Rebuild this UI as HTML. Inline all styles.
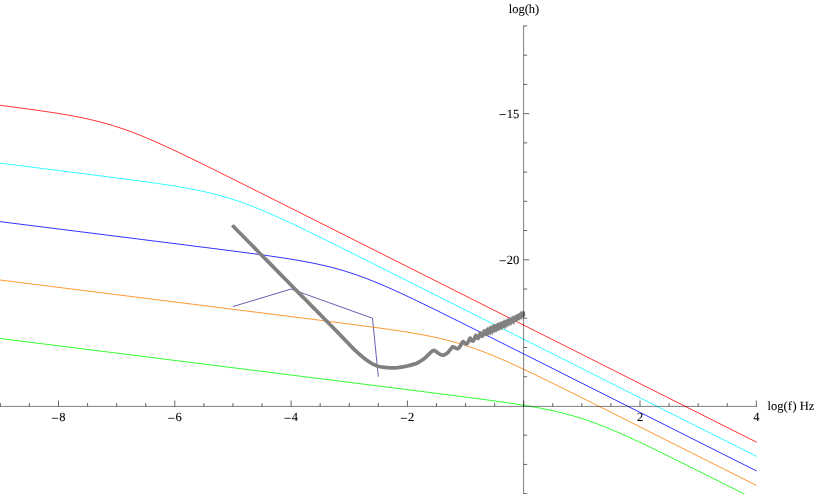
<!DOCTYPE html>
<html><head><meta charset="utf-8"><style>
html,body{margin:0;padding:0;background:#fff;}
svg{display:block;font-family:"Liberation Serif",serif;will-change:transform;text-rendering:geometricPrecision;}
</style></head><body>
<svg width="814" height="494" viewBox="0 0 814 494">
<rect width="814" height="494" fill="#fff"/>
<path d="M232.95,306.57 L291.10,289.03 L372.51,318.26 L378.33,376.72" fill="none" stroke="#4646a2" stroke-width="0.85"/>
<path d="M0.00,105.27 L2.00,105.53 L4.00,105.79 L6.00,106.05 L8.00,106.31 L10.00,106.58 L12.00,106.84 L14.00,107.11 L16.00,107.37 L18.00,107.64 L20.00,107.91 L22.00,108.17 L24.00,108.45 L26.00,108.72 L28.00,108.99 L30.00,109.27 L32.00,109.55 L34.00,109.83 L36.00,110.11 L38.00,110.39 L40.00,110.68 L42.00,110.97 L44.00,111.26 L46.00,111.56 L48.00,111.86 L50.00,112.16 L52.00,112.47 L54.00,112.78 L56.00,113.09 L58.00,113.42 L60.00,113.74 L62.00,114.07 L64.00,114.41 L66.00,114.75 L68.00,115.10 L70.00,115.46 L72.00,115.83 L74.00,116.20 L76.00,116.58 L78.00,116.97 L80.00,117.37 L82.00,117.77 L84.00,118.19 L86.00,118.62 L88.00,119.06 L90.00,119.51 L92.00,119.97 L94.00,120.45 L96.00,120.94 L98.00,121.44 L100.00,121.95 L102.00,122.48 L104.00,123.02 L106.00,123.58 L108.00,124.15 L110.00,124.73 L112.00,125.33 L114.00,125.95 L116.00,126.58 L118.00,127.22 L120.00,127.88 L122.00,128.56 L124.00,129.25 L126.00,129.95 L128.00,130.67 L130.00,131.40 L132.00,132.15 L134.00,132.90 L136.00,133.68 L138.00,134.46 L140.00,135.26 L142.00,136.06 L144.00,136.88 L146.00,137.71 L148.00,138.55 L150.00,139.41 L152.00,140.27 L154.00,141.13 L156.00,142.01 L158.00,142.90 L160.00,143.79 L162.00,144.69 L164.00,145.60 L166.00,146.52 L168.00,147.44 L170.00,148.36 L172.00,149.29 L174.00,150.23 L176.00,151.17 L178.00,152.12 L180.00,153.07 L182.00,154.02 L184.00,154.98 L186.00,155.94 L188.00,156.91 L190.00,157.88 L192.00,158.85 L194.00,159.82 L196.00,160.79 L198.00,161.77 L200.00,162.75 L202.00,163.73 L204.00,164.71 L206.00,165.70 L208.00,166.69 L210.00,167.67 L212.00,168.66 L214.00,169.65 L216.00,170.64 L218.00,171.64 L220.00,172.63 L222.00,173.62 L224.00,174.62 L226.00,175.61 L228.00,176.61 L230.00,177.61 L232.00,178.61 L234.00,179.60 L236.00,180.60 L238.00,181.60 L240.00,182.60 L242.00,183.60 L244.00,184.60 L246.00,185.60 L248.00,186.61 L250.00,187.61 L252.00,188.61 L254.00,189.61 L256.00,190.61 L258.00,191.62 L260.00,192.62 L262.00,193.62 L264.00,194.63 L266.00,195.63 L268.00,196.63 L270.00,197.64 L272.00,198.64 L274.00,199.64 L276.00,200.65 L278.00,201.65 L280.00,202.66 L282.00,203.66 L284.00,204.66 L286.00,205.67 L288.00,206.67 L290.00,207.68 L292.00,208.68 L294.00,209.69 L296.00,210.69 L298.00,211.70 L300.00,212.70 L302.00,213.71 L304.00,214.71 L306.00,215.72 L308.00,216.72 L310.00,217.73 L312.00,218.73 L314.00,219.74 L316.00,220.74 L318.00,221.75 L320.00,222.75 L322.00,223.76 L324.00,224.76 L326.00,225.77 L328.00,226.77 L330.00,227.78 L332.00,228.78 L334.00,229.79 L336.00,230.79 L338.00,231.80 L340.00,232.80 L342.00,233.81 L344.00,234.81 L346.00,235.82 L348.00,236.82 L350.00,237.83 L352.00,238.84 L354.00,239.84 L356.00,240.85 L358.00,241.85 L360.00,242.86 L362.00,243.86 L364.00,244.87 L366.00,245.87 L368.00,246.88 L370.00,247.88 L372.00,248.89 L374.00,249.89 L376.00,250.90 L378.00,251.90 L380.00,252.91 L382.00,253.91 L384.00,254.92 L386.00,255.93 L388.00,256.93 L390.00,257.94 L392.00,258.94 L394.00,259.95 L396.00,260.95 L398.00,261.96 L400.00,262.96 L402.00,263.97 L404.00,264.97 L406.00,265.98 L408.00,266.98 L410.00,267.99 L412.00,268.99 L414.00,270.00 L416.00,271.01 L418.00,272.01 L420.00,273.02 L422.00,274.02 L424.00,275.03 L426.00,276.03 L428.00,277.04 L430.00,278.04 L432.00,279.05 L434.00,280.05 L436.00,281.06 L438.00,282.06 L440.00,283.07 L442.00,284.07 L444.00,285.08 L446.00,286.09 L448.00,287.09 L450.00,288.10 L452.00,289.10 L454.00,290.11 L456.00,291.11 L458.00,292.12 L460.00,293.12 L462.00,294.13 L464.00,295.13 L466.00,296.14 L468.00,297.14 L470.00,298.15 L472.00,299.15 L474.00,300.16 L476.00,301.16 L478.00,302.17 L480.00,303.18 L482.00,304.18 L484.00,305.19 L486.00,306.19 L488.00,307.20 L490.00,308.20 L492.00,309.21 L494.00,310.21 L496.00,311.22 L498.00,312.22 L500.00,313.23 L502.00,314.23 L504.00,315.24 L506.00,316.24 L508.00,317.25 L510.00,318.26 L512.00,319.26 L514.00,320.27 L516.00,321.27 L518.00,322.28 L520.00,323.28 L522.00,324.29 L524.00,325.29 L526.00,326.30 L528.00,327.30 L530.00,328.31 L532.00,329.31 L534.00,330.32 L536.00,331.32 L538.00,332.33 L540.00,333.34 L542.00,334.34 L544.00,335.35 L546.00,336.35 L548.00,337.36 L550.00,338.36 L552.00,339.37 L554.00,340.37 L556.00,341.38 L558.00,342.38 L560.00,343.39 L562.00,344.39 L564.00,345.40 L566.00,346.40 L568.00,347.41 L570.00,348.42 L572.00,349.42 L574.00,350.43 L576.00,351.43 L578.00,352.44 L580.00,353.44 L582.00,354.45 L584.00,355.45 L586.00,356.46 L588.00,357.46 L590.00,358.47 L592.00,359.47 L594.00,360.48 L596.00,361.48 L598.00,362.49 L600.00,363.50 L602.00,364.50 L604.00,365.51 L606.00,366.51 L608.00,367.52 L610.00,368.52 L612.00,369.53 L614.00,370.53 L616.00,371.54 L618.00,372.54 L620.00,373.55 L622.00,374.55 L624.00,375.56 L626.00,376.56 L628.00,377.57 L630.00,378.58 L632.00,379.58 L634.00,380.59 L636.00,381.59 L638.00,382.60 L640.00,383.60 L642.00,384.61 L644.00,385.61 L646.00,386.62 L648.00,387.62 L650.00,388.63 L652.00,389.63 L654.00,390.64 L656.00,391.64 L658.00,392.65 L660.00,393.66 L662.00,394.66 L664.00,395.67 L666.00,396.67 L668.00,397.68 L670.00,398.68 L672.00,399.69 L674.00,400.69 L676.00,401.70 L678.00,402.70 L680.00,403.71 L682.00,404.71 L684.00,405.72 L686.00,406.72 L688.00,407.73 L690.00,408.74 L692.00,409.74 L694.00,410.75 L696.00,411.75 L698.00,412.76 L700.00,413.76 L702.00,414.77 L704.00,415.77 L706.00,416.78 L708.00,417.78 L710.00,418.79 L712.00,419.79 L714.00,420.80 L716.00,421.80 L718.00,422.81 L720.00,423.82 L722.00,424.82 L724.00,425.83 L726.00,426.83 L728.00,427.84 L730.00,428.84 L732.00,429.85 L734.00,430.85 L736.00,431.86 L738.00,432.86 L740.00,433.87 L742.00,434.87 L744.00,435.88 L746.00,436.88 L748.00,437.89 L750.00,438.90 L752.00,439.90 L754.00,440.91 L756.00,441.91 L756.60,442.21" fill="none" stroke="#ff0000" stroke-width="0.8"/>
<path d="M0.00,163.18 L2.00,163.43 L4.00,163.69 L6.00,163.94 L8.00,164.19 L10.00,164.44 L12.00,164.69 L14.00,164.94 L16.00,165.19 L18.00,165.45 L20.00,165.70 L22.00,165.95 L24.00,166.20 L26.00,166.45 L28.00,166.70 L30.00,166.95 L32.00,167.21 L34.00,167.46 L36.00,167.71 L38.00,167.96 L40.00,168.21 L42.00,168.46 L44.00,168.72 L46.00,168.97 L48.00,169.22 L50.00,169.47 L52.00,169.72 L54.00,169.98 L56.00,170.23 L58.00,170.48 L60.00,170.73 L62.00,170.98 L64.00,171.24 L66.00,171.49 L68.00,171.74 L70.00,171.99 L72.00,172.25 L74.00,172.50 L76.00,172.75 L78.00,173.01 L80.00,173.26 L82.00,173.51 L84.00,173.77 L86.00,174.02 L88.00,174.27 L90.00,174.53 L92.00,174.78 L94.00,175.04 L96.00,175.29 L98.00,175.55 L100.00,175.80 L102.00,176.06 L104.00,176.31 L106.00,176.57 L108.00,176.83 L110.00,177.08 L112.00,177.34 L114.00,177.60 L116.00,177.86 L118.00,178.12 L120.00,178.38 L122.00,178.64 L124.00,178.90 L126.00,179.16 L128.00,179.43 L130.00,179.69 L132.00,179.96 L134.00,180.22 L136.00,180.49 L138.00,180.76 L140.00,181.03 L142.00,181.30 L144.00,181.58 L146.00,181.85 L148.00,182.13 L150.00,182.41 L152.00,182.69 L154.00,182.97 L156.00,183.26 L158.00,183.55 L160.00,183.84 L162.00,184.14 L164.00,184.44 L166.00,184.74 L168.00,185.05 L170.00,185.36 L172.00,185.67 L174.00,185.99 L176.00,186.32 L178.00,186.65 L180.00,186.98 L182.00,187.33 L184.00,187.68 L186.00,188.03 L188.00,188.40 L190.00,188.77 L192.00,189.15 L194.00,189.53 L196.00,189.93 L198.00,190.34 L200.00,190.75 L202.00,191.18 L204.00,191.62 L206.00,192.07 L208.00,192.53 L210.00,193.00 L212.00,193.49 L214.00,193.99 L216.00,194.50 L218.00,195.03 L220.00,195.56 L222.00,196.12 L224.00,196.69 L226.00,197.27 L228.00,197.87 L230.00,198.48 L232.00,199.11 L234.00,199.75 L236.00,200.41 L238.00,201.08 L240.00,201.77 L242.00,202.47 L244.00,203.18 L246.00,203.91 L248.00,204.66 L250.00,205.41 L252.00,206.18 L254.00,206.97 L256.00,207.76 L258.00,208.57 L260.00,209.39 L262.00,210.21 L264.00,211.05 L266.00,211.90 L268.00,212.76 L270.00,213.63 L272.00,214.51 L274.00,215.39 L276.00,216.28 L278.00,217.18 L280.00,218.09 L282.00,219.00 L284.00,219.92 L286.00,220.85 L288.00,221.78 L290.00,222.72 L292.00,223.66 L294.00,224.60 L296.00,225.55 L298.00,226.51 L300.00,227.46 L302.00,228.42 L304.00,229.39 L306.00,230.35 L308.00,231.32 L310.00,232.30 L312.00,233.27 L314.00,234.25 L316.00,235.23 L318.00,236.21 L320.00,237.19 L322.00,238.18 L324.00,239.16 L326.00,240.15 L328.00,241.14 L330.00,242.13 L332.00,243.12 L334.00,244.11 L336.00,245.11 L338.00,246.10 L340.00,247.09 L342.00,248.09 L344.00,249.09 L346.00,250.08 L348.00,251.08 L350.00,252.08 L352.00,253.08 L354.00,254.08 L356.00,255.08 L358.00,256.08 L360.00,257.08 L362.00,258.08 L364.00,259.08 L366.00,260.08 L368.00,261.08 L370.00,262.09 L372.00,263.09 L374.00,264.09 L376.00,265.09 L378.00,266.10 L380.00,267.10 L382.00,268.10 L384.00,269.11 L386.00,270.11 L388.00,271.11 L390.00,272.12 L392.00,273.12 L394.00,274.13 L396.00,275.13 L398.00,276.13 L400.00,277.14 L402.00,278.14 L404.00,279.15 L406.00,280.15 L408.00,281.16 L410.00,282.16 L412.00,283.17 L414.00,284.17 L416.00,285.18 L418.00,286.18 L420.00,287.19 L422.00,288.19 L424.00,289.20 L426.00,290.20 L428.00,291.21 L430.00,292.21 L432.00,293.22 L434.00,294.22 L436.00,295.23 L438.00,296.23 L440.00,297.24 L442.00,298.24 L444.00,299.25 L446.00,300.25 L448.00,301.26 L450.00,302.26 L452.00,303.27 L454.00,304.27 L456.00,305.28 L458.00,306.28 L460.00,307.29 L462.00,308.29 L464.00,309.30 L466.00,310.30 L468.00,311.31 L470.00,312.31 L472.00,313.32 L474.00,314.33 L476.00,315.33 L478.00,316.34 L480.00,317.34 L482.00,318.35 L484.00,319.35 L486.00,320.36 L488.00,321.36 L490.00,322.37 L492.00,323.37 L494.00,324.38 L496.00,325.38 L498.00,326.39 L500.00,327.39 L502.00,328.40 L504.00,329.40 L506.00,330.41 L508.00,331.42 L510.00,332.42 L512.00,333.43 L514.00,334.43 L516.00,335.44 L518.00,336.44 L520.00,337.45 L522.00,338.45 L524.00,339.46 L526.00,340.46 L528.00,341.47 L530.00,342.47 L532.00,343.48 L534.00,344.48 L536.00,345.49 L538.00,346.50 L540.00,347.50 L542.00,348.51 L544.00,349.51 L546.00,350.52 L548.00,351.52 L550.00,352.53 L552.00,353.53 L554.00,354.54 L556.00,355.54 L558.00,356.55 L560.00,357.55 L562.00,358.56 L564.00,359.56 L566.00,360.57 L568.00,361.58 L570.00,362.58 L572.00,363.59 L574.00,364.59 L576.00,365.60 L578.00,366.60 L580.00,367.61 L582.00,368.61 L584.00,369.62 L586.00,370.62 L588.00,371.63 L590.00,372.63 L592.00,373.64 L594.00,374.64 L596.00,375.65 L598.00,376.66 L600.00,377.66 L602.00,378.67 L604.00,379.67 L606.00,380.68 L608.00,381.68 L610.00,382.69 L612.00,383.69 L614.00,384.70 L616.00,385.70 L618.00,386.71 L620.00,387.71 L622.00,388.72 L624.00,389.72 L626.00,390.73 L628.00,391.74 L630.00,392.74 L632.00,393.75 L634.00,394.75 L636.00,395.76 L638.00,396.76 L640.00,397.77 L642.00,398.77 L644.00,399.78 L646.00,400.78 L648.00,401.79 L650.00,402.79 L652.00,403.80 L654.00,404.80 L656.00,405.81 L658.00,406.82 L660.00,407.82 L662.00,408.83 L664.00,409.83 L666.00,410.84 L668.00,411.84 L670.00,412.85 L672.00,413.85 L674.00,414.86 L676.00,415.86 L678.00,416.87 L680.00,417.87 L682.00,418.88 L684.00,419.88 L686.00,420.89 L688.00,421.90 L690.00,422.90 L692.00,423.91 L694.00,424.91 L696.00,425.92 L698.00,426.92 L700.00,427.93 L702.00,428.93 L704.00,429.94 L706.00,430.94 L708.00,431.95 L710.00,432.95 L712.00,433.96 L714.00,434.96 L716.00,435.97 L718.00,436.98 L720.00,437.98 L722.00,438.99 L724.00,439.99 L726.00,441.00 L728.00,442.00 L730.00,443.01 L732.00,444.01 L734.00,445.02 L736.00,446.02 L738.00,447.03 L740.00,448.03 L742.00,449.04 L744.00,450.04 L746.00,451.05 L748.00,452.05 L750.00,453.06 L752.00,454.07 L754.00,455.07 L756.00,456.08 L756.60,456.38" fill="none" stroke="#00ffff" stroke-width="0.8"/>
<path d="M0.00,221.64 L2.00,221.89 L4.00,222.14 L6.00,222.40 L8.00,222.65 L10.00,222.90 L12.00,223.15 L14.00,223.40 L16.00,223.65 L18.00,223.90 L20.00,224.15 L22.00,224.41 L24.00,224.66 L26.00,224.91 L28.00,225.16 L30.00,225.41 L32.00,225.66 L34.00,225.91 L36.00,226.17 L38.00,226.42 L40.00,226.67 L42.00,226.92 L44.00,227.17 L46.00,227.42 L48.00,227.67 L50.00,227.93 L52.00,228.18 L54.00,228.43 L56.00,228.68 L58.00,228.93 L60.00,229.18 L62.00,229.43 L64.00,229.68 L66.00,229.94 L68.00,230.19 L70.00,230.44 L72.00,230.69 L74.00,230.94 L76.00,231.19 L78.00,231.44 L80.00,231.70 L82.00,231.95 L84.00,232.20 L86.00,232.45 L88.00,232.70 L90.00,232.95 L92.00,233.20 L94.00,233.45 L96.00,233.71 L98.00,233.96 L100.00,234.21 L102.00,234.46 L104.00,234.71 L106.00,234.96 L108.00,235.21 L110.00,235.47 L112.00,235.72 L114.00,235.97 L116.00,236.22 L118.00,236.47 L120.00,236.72 L122.00,236.97 L124.00,237.23 L126.00,237.48 L128.00,237.73 L130.00,237.98 L132.00,238.23 L134.00,238.48 L136.00,238.73 L138.00,238.99 L140.00,239.24 L142.00,239.49 L144.00,239.74 L146.00,239.99 L148.00,240.24 L150.00,240.50 L152.00,240.75 L154.00,241.00 L156.00,241.25 L158.00,241.50 L160.00,241.75 L162.00,242.01 L164.00,242.26 L166.00,242.51 L168.00,242.76 L170.00,243.01 L172.00,243.27 L174.00,243.52 L176.00,243.77 L178.00,244.02 L180.00,244.27 L182.00,244.53 L184.00,244.78 L186.00,245.03 L188.00,245.28 L190.00,245.54 L192.00,245.79 L194.00,246.04 L196.00,246.30 L198.00,246.55 L200.00,246.80 L202.00,247.06 L204.00,247.31 L206.00,247.56 L208.00,247.82 L210.00,248.07 L212.00,248.33 L214.00,248.58 L216.00,248.84 L218.00,249.09 L220.00,249.35 L222.00,249.61 L224.00,249.86 L226.00,250.12 L228.00,250.38 L230.00,250.64 L232.00,250.89 L234.00,251.15 L236.00,251.41 L238.00,251.67 L240.00,251.94 L242.00,252.20 L244.00,252.46 L246.00,252.73 L248.00,252.99 L250.00,253.26 L252.00,253.52 L254.00,253.79 L256.00,254.06 L258.00,254.34 L260.00,254.61 L262.00,254.88 L264.00,255.16 L266.00,255.44 L268.00,255.72 L270.00,256.01 L272.00,256.29 L274.00,256.58 L276.00,256.87 L278.00,257.17 L280.00,257.47 L282.00,257.77 L284.00,258.07 L286.00,258.38 L288.00,258.70 L290.00,259.02 L292.00,259.34 L294.00,259.67 L296.00,260.01 L298.00,260.35 L300.00,260.70 L302.00,261.05 L304.00,261.42 L306.00,261.79 L308.00,262.16 L310.00,262.55 L312.00,262.95 L314.00,263.35 L316.00,263.77 L318.00,264.19 L320.00,264.63 L322.00,265.08 L324.00,265.53 L326.00,266.01 L328.00,266.49 L330.00,266.99 L332.00,267.50 L334.00,268.02 L336.00,268.56 L338.00,269.11 L340.00,269.68 L342.00,270.26 L344.00,270.85 L346.00,271.46 L348.00,272.09 L350.00,272.73 L352.00,273.38 L354.00,274.05 L356.00,274.74 L358.00,275.44 L360.00,276.15 L362.00,276.88 L364.00,277.62 L366.00,278.38 L368.00,279.14 L370.00,279.92 L372.00,280.72 L374.00,281.52 L376.00,282.34 L378.00,283.16 L380.00,284.00 L382.00,284.85 L384.00,285.71 L386.00,286.57 L388.00,287.45 L390.00,288.33 L392.00,289.22 L394.00,290.12 L396.00,291.03 L398.00,291.94 L400.00,292.86 L402.00,293.78 L404.00,294.71 L406.00,295.65 L408.00,296.59 L410.00,297.54 L412.00,298.48 L414.00,299.44 L416.00,300.39 L418.00,301.35 L420.00,302.32 L422.00,303.28 L424.00,304.25 L426.00,305.23 L428.00,306.20 L430.00,307.18 L432.00,308.16 L434.00,309.14 L436.00,310.12 L438.00,311.10 L440.00,312.09 L442.00,313.08 L444.00,314.07 L446.00,315.05 L448.00,316.05 L450.00,317.04 L452.00,318.03 L454.00,319.03 L456.00,320.02 L458.00,321.02 L460.00,322.01 L462.00,323.01 L464.00,324.01 L466.00,325.00 L468.00,326.00 L470.00,327.00 L472.00,328.00 L474.00,329.00 L476.00,330.00 L478.00,331.00 L480.00,332.01 L482.00,333.01 L484.00,334.01 L486.00,335.01 L488.00,336.01 L490.00,337.02 L492.00,338.02 L494.00,339.02 L496.00,340.02 L498.00,341.03 L500.00,342.03 L502.00,343.04 L504.00,344.04 L506.00,345.04 L508.00,346.05 L510.00,347.05 L512.00,348.05 L514.00,349.06 L516.00,350.06 L518.00,351.07 L520.00,352.07 L522.00,353.08 L524.00,354.08 L526.00,355.09 L528.00,356.09 L530.00,357.10 L532.00,358.10 L534.00,359.11 L536.00,360.11 L538.00,361.12 L540.00,362.12 L542.00,363.13 L544.00,364.13 L546.00,365.14 L548.00,366.14 L550.00,367.15 L552.00,368.15 L554.00,369.16 L556.00,370.16 L558.00,371.17 L560.00,372.17 L562.00,373.18 L564.00,374.18 L566.00,375.19 L568.00,376.19 L570.00,377.20 L572.00,378.20 L574.00,379.21 L576.00,380.21 L578.00,381.22 L580.00,382.22 L582.00,383.23 L584.00,384.23 L586.00,385.24 L588.00,386.24 L590.00,387.25 L592.00,388.25 L594.00,389.26 L596.00,390.27 L598.00,391.27 L600.00,392.28 L602.00,393.28 L604.00,394.29 L606.00,395.29 L608.00,396.30 L610.00,397.30 L612.00,398.31 L614.00,399.31 L616.00,400.32 L618.00,401.32 L620.00,402.33 L622.00,403.33 L624.00,404.34 L626.00,405.34 L628.00,406.35 L630.00,407.36 L632.00,408.36 L634.00,409.37 L636.00,410.37 L638.00,411.38 L640.00,412.38 L642.00,413.39 L644.00,414.39 L646.00,415.40 L648.00,416.40 L650.00,417.41 L652.00,418.41 L654.00,419.42 L656.00,420.42 L658.00,421.43 L660.00,422.44 L662.00,423.44 L664.00,424.45 L666.00,425.45 L668.00,426.46 L670.00,427.46 L672.00,428.47 L674.00,429.47 L676.00,430.48 L678.00,431.48 L680.00,432.49 L682.00,433.49 L684.00,434.50 L686.00,435.50 L688.00,436.51 L690.00,437.52 L692.00,438.52 L694.00,439.53 L696.00,440.53 L698.00,441.54 L700.00,442.54 L702.00,443.55 L704.00,444.55 L706.00,445.56 L708.00,446.56 L710.00,447.57 L712.00,448.57 L714.00,449.58 L716.00,450.58 L718.00,451.59 L720.00,452.60 L722.00,453.60 L724.00,454.61 L726.00,455.61 L728.00,456.62 L730.00,457.62 L732.00,458.63 L734.00,459.63 L736.00,460.64 L738.00,461.64 L740.00,462.65 L742.00,463.65 L744.00,464.66 L746.00,465.66 L748.00,466.67 L750.00,467.68 L752.00,468.68 L754.00,469.69 L756.00,470.69 L756.60,470.99" fill="none" stroke="#0000ff" stroke-width="0.8"/>
<path d="M0.00,280.00 L2.00,280.25 L4.00,280.50 L6.00,280.76 L8.00,281.01 L10.00,281.26 L12.00,281.51 L14.00,281.76 L16.00,282.01 L18.00,282.26 L20.00,282.51 L22.00,282.77 L24.00,283.02 L26.00,283.27 L28.00,283.52 L30.00,283.77 L32.00,284.02 L34.00,284.27 L36.00,284.53 L38.00,284.78 L40.00,285.03 L42.00,285.28 L44.00,285.53 L46.00,285.78 L48.00,286.03 L50.00,286.28 L52.00,286.54 L54.00,286.79 L56.00,287.04 L58.00,287.29 L60.00,287.54 L62.00,287.79 L64.00,288.04 L66.00,288.30 L68.00,288.55 L70.00,288.80 L72.00,289.05 L74.00,289.30 L76.00,289.55 L78.00,289.80 L80.00,290.05 L82.00,290.31 L84.00,290.56 L86.00,290.81 L88.00,291.06 L90.00,291.31 L92.00,291.56 L94.00,291.81 L96.00,292.07 L98.00,292.32 L100.00,292.57 L102.00,292.82 L104.00,293.07 L106.00,293.32 L108.00,293.57 L110.00,293.82 L112.00,294.08 L114.00,294.33 L116.00,294.58 L118.00,294.83 L120.00,295.08 L122.00,295.33 L124.00,295.58 L126.00,295.84 L128.00,296.09 L130.00,296.34 L132.00,296.59 L134.00,296.84 L136.00,297.09 L138.00,297.34 L140.00,297.59 L142.00,297.85 L144.00,298.10 L146.00,298.35 L148.00,298.60 L150.00,298.85 L152.00,299.10 L154.00,299.35 L156.00,299.61 L158.00,299.86 L160.00,300.11 L162.00,300.36 L164.00,300.61 L166.00,300.86 L168.00,301.11 L170.00,301.36 L172.00,301.62 L174.00,301.87 L176.00,302.12 L178.00,302.37 L180.00,302.62 L182.00,302.87 L184.00,303.12 L186.00,303.38 L188.00,303.63 L190.00,303.88 L192.00,304.13 L194.00,304.38 L196.00,304.63 L198.00,304.88 L200.00,305.14 L202.00,305.39 L204.00,305.64 L206.00,305.89 L208.00,306.14 L210.00,306.39 L212.00,306.64 L214.00,306.89 L216.00,307.15 L218.00,307.40 L220.00,307.65 L222.00,307.90 L224.00,308.15 L226.00,308.40 L228.00,308.65 L230.00,308.91 L232.00,309.16 L234.00,309.41 L236.00,309.66 L238.00,309.91 L240.00,310.16 L242.00,310.41 L244.00,310.67 L246.00,310.92 L248.00,311.17 L250.00,311.42 L252.00,311.67 L254.00,311.92 L256.00,312.17 L258.00,312.43 L260.00,312.68 L262.00,312.93 L264.00,313.18 L266.00,313.43 L268.00,313.68 L270.00,313.94 L272.00,314.19 L274.00,314.44 L276.00,314.69 L278.00,314.94 L280.00,315.19 L282.00,315.45 L284.00,315.70 L286.00,315.95 L288.00,316.20 L290.00,316.45 L292.00,316.71 L294.00,316.96 L296.00,317.21 L298.00,317.46 L300.00,317.72 L302.00,317.97 L304.00,318.22 L306.00,318.47 L308.00,318.73 L310.00,318.98 L312.00,319.23 L314.00,319.49 L316.00,319.74 L318.00,319.99 L320.00,320.25 L322.00,320.50 L324.00,320.76 L326.00,321.01 L328.00,321.26 L330.00,321.52 L332.00,321.77 L334.00,322.03 L336.00,322.29 L338.00,322.54 L340.00,322.80 L342.00,323.06 L344.00,323.31 L346.00,323.57 L348.00,323.83 L350.00,324.09 L352.00,324.35 L354.00,324.61 L356.00,324.87 L358.00,325.13 L360.00,325.40 L362.00,325.66 L364.00,325.93 L366.00,326.19 L368.00,326.46 L370.00,326.73 L372.00,327.00 L374.00,327.27 L376.00,327.54 L378.00,327.82 L380.00,328.10 L382.00,328.37 L384.00,328.65 L386.00,328.94 L388.00,329.22 L390.00,329.51 L392.00,329.80 L394.00,330.10 L396.00,330.40 L398.00,330.70 L400.00,331.00 L402.00,331.31 L404.00,331.63 L406.00,331.95 L408.00,332.27 L410.00,332.60 L412.00,332.93 L414.00,333.27 L416.00,333.62 L418.00,333.97 L420.00,334.34 L422.00,334.70 L424.00,335.08 L426.00,335.47 L428.00,335.86 L430.00,336.26 L432.00,336.68 L434.00,337.10 L436.00,337.54 L438.00,337.98 L440.00,338.44 L442.00,338.91 L444.00,339.39 L446.00,339.89 L448.00,340.39 L450.00,340.92 L452.00,341.45 L454.00,342.00 L456.00,342.57 L458.00,343.14 L460.00,343.74 L462.00,344.35 L464.00,344.97 L466.00,345.61 L468.00,346.26 L470.00,346.93 L472.00,347.61 L474.00,348.31 L476.00,349.02 L478.00,349.74 L480.00,350.48 L482.00,351.24 L484.00,352.00 L486.00,352.78 L488.00,353.57 L490.00,354.37 L492.00,355.19 L494.00,356.01 L496.00,356.85 L498.00,357.70 L500.00,358.55 L502.00,359.42 L504.00,360.29 L506.00,361.17 L508.00,362.06 L510.00,362.96 L512.00,363.87 L514.00,364.78 L516.00,365.70 L518.00,366.62 L520.00,367.55 L522.00,368.48 L524.00,369.42 L526.00,370.37 L528.00,371.32 L530.00,372.27 L532.00,373.23 L534.00,374.19 L536.00,375.15 L538.00,376.11 L540.00,377.08 L542.00,378.06 L544.00,379.03 L546.00,380.01 L548.00,380.98 L550.00,381.96 L552.00,382.95 L554.00,383.93 L556.00,384.92 L558.00,385.90 L560.00,386.89 L562.00,387.88 L564.00,388.87 L566.00,389.86 L568.00,390.86 L570.00,391.85 L572.00,392.85 L574.00,393.84 L576.00,394.84 L578.00,395.83 L580.00,396.83 L582.00,397.83 L584.00,398.83 L586.00,399.83 L588.00,400.83 L590.00,401.83 L592.00,402.83 L594.00,403.83 L596.00,404.83 L598.00,405.83 L600.00,406.83 L602.00,407.84 L604.00,408.84 L606.00,409.84 L608.00,410.84 L610.00,411.85 L612.00,412.85 L614.00,413.85 L616.00,414.86 L618.00,415.86 L620.00,416.86 L622.00,417.87 L624.00,418.87 L626.00,419.88 L628.00,420.88 L630.00,421.88 L632.00,422.89 L634.00,423.89 L636.00,424.90 L638.00,425.90 L640.00,426.91 L642.00,427.91 L644.00,428.92 L646.00,429.92 L648.00,430.92 L650.00,431.93 L652.00,432.93 L654.00,433.94 L656.00,434.94 L658.00,435.95 L660.00,436.95 L662.00,437.96 L664.00,438.96 L666.00,439.97 L668.00,440.97 L670.00,441.98 L672.00,442.98 L674.00,443.99 L676.00,445.00 L678.00,446.00 L680.00,447.01 L682.00,448.01 L684.00,449.02 L686.00,450.02 L688.00,451.03 L690.00,452.03 L692.00,453.04 L694.00,454.04 L696.00,455.05 L698.00,456.05 L700.00,457.06 L702.00,458.06 L704.00,459.07 L706.00,460.07 L708.00,461.08 L710.00,462.08 L712.00,463.09 L714.00,464.09 L716.00,465.10 L718.00,466.11 L720.00,467.11 L722.00,468.12 L724.00,469.12 L726.00,470.13 L728.00,471.13 L730.00,472.14 L732.00,473.14 L734.00,474.15 L736.00,475.15 L738.00,476.16 L740.00,477.16 L742.00,478.17 L744.00,479.17 L746.00,480.18 L748.00,481.19 L750.00,482.19 L752.00,483.20 L754.00,484.20 L756.00,485.21 L756.60,485.51" fill="none" stroke="#ff8000" stroke-width="0.8"/>
<path d="M0.00,338.46 L2.00,338.71 L4.00,338.96 L6.00,339.22 L8.00,339.47 L10.00,339.72 L12.00,339.97 L14.00,340.22 L16.00,340.47 L18.00,340.72 L20.00,340.97 L22.00,341.23 L24.00,341.48 L26.00,341.73 L28.00,341.98 L30.00,342.23 L32.00,342.48 L34.00,342.73 L36.00,342.99 L38.00,343.24 L40.00,343.49 L42.00,343.74 L44.00,343.99 L46.00,344.24 L48.00,344.49 L50.00,344.74 L52.00,345.00 L54.00,345.25 L56.00,345.50 L58.00,345.75 L60.00,346.00 L62.00,346.25 L64.00,346.50 L66.00,346.76 L68.00,347.01 L70.00,347.26 L72.00,347.51 L74.00,347.76 L76.00,348.01 L78.00,348.26 L80.00,348.51 L82.00,348.77 L84.00,349.02 L86.00,349.27 L88.00,349.52 L90.00,349.77 L92.00,350.02 L94.00,350.27 L96.00,350.53 L98.00,350.78 L100.00,351.03 L102.00,351.28 L104.00,351.53 L106.00,351.78 L108.00,352.03 L110.00,352.28 L112.00,352.54 L114.00,352.79 L116.00,353.04 L118.00,353.29 L120.00,353.54 L122.00,353.79 L124.00,354.04 L126.00,354.30 L128.00,354.55 L130.00,354.80 L132.00,355.05 L134.00,355.30 L136.00,355.55 L138.00,355.80 L140.00,356.05 L142.00,356.31 L144.00,356.56 L146.00,356.81 L148.00,357.06 L150.00,357.31 L152.00,357.56 L154.00,357.81 L156.00,358.07 L158.00,358.32 L160.00,358.57 L162.00,358.82 L164.00,359.07 L166.00,359.32 L168.00,359.57 L170.00,359.82 L172.00,360.08 L174.00,360.33 L176.00,360.58 L178.00,360.83 L180.00,361.08 L182.00,361.33 L184.00,361.58 L186.00,361.84 L188.00,362.09 L190.00,362.34 L192.00,362.59 L194.00,362.84 L196.00,363.09 L198.00,363.34 L200.00,363.59 L202.00,363.85 L204.00,364.10 L206.00,364.35 L208.00,364.60 L210.00,364.85 L212.00,365.10 L214.00,365.35 L216.00,365.61 L218.00,365.86 L220.00,366.11 L222.00,366.36 L224.00,366.61 L226.00,366.86 L228.00,367.11 L230.00,367.36 L232.00,367.62 L234.00,367.87 L236.00,368.12 L238.00,368.37 L240.00,368.62 L242.00,368.87 L244.00,369.12 L246.00,369.38 L248.00,369.63 L250.00,369.88 L252.00,370.13 L254.00,370.38 L256.00,370.63 L258.00,370.88 L260.00,371.13 L262.00,371.39 L264.00,371.64 L266.00,371.89 L268.00,372.14 L270.00,372.39 L272.00,372.64 L274.00,372.89 L276.00,373.15 L278.00,373.40 L280.00,373.65 L282.00,373.90 L284.00,374.15 L286.00,374.40 L288.00,374.65 L290.00,374.90 L292.00,375.16 L294.00,375.41 L296.00,375.66 L298.00,375.91 L300.00,376.16 L302.00,376.41 L304.00,376.66 L306.00,376.92 L308.00,377.17 L310.00,377.42 L312.00,377.67 L314.00,377.92 L316.00,378.17 L318.00,378.42 L320.00,378.68 L322.00,378.93 L324.00,379.18 L326.00,379.43 L328.00,379.68 L330.00,379.93 L332.00,380.18 L334.00,380.43 L336.00,380.69 L338.00,380.94 L340.00,381.19 L342.00,381.44 L344.00,381.69 L346.00,381.94 L348.00,382.19 L350.00,382.45 L352.00,382.70 L354.00,382.95 L356.00,383.20 L358.00,383.45 L360.00,383.70 L362.00,383.95 L364.00,384.21 L366.00,384.46 L368.00,384.71 L370.00,384.96 L372.00,385.21 L374.00,385.46 L376.00,385.72 L378.00,385.97 L380.00,386.22 L382.00,386.47 L384.00,386.72 L386.00,386.97 L388.00,387.22 L390.00,387.48 L392.00,387.73 L394.00,387.98 L396.00,388.23 L398.00,388.48 L400.00,388.74 L402.00,388.99 L404.00,389.24 L406.00,389.49 L408.00,389.74 L410.00,390.00 L412.00,390.25 L414.00,390.50 L416.00,390.75 L418.00,391.01 L420.00,391.26 L422.00,391.51 L424.00,391.76 L426.00,392.02 L428.00,392.27 L430.00,392.52 L432.00,392.78 L434.00,393.03 L436.00,393.28 L438.00,393.54 L440.00,393.79 L442.00,394.05 L444.00,394.30 L446.00,394.56 L448.00,394.81 L450.00,395.07 L452.00,395.32 L454.00,395.58 L456.00,395.84 L458.00,396.09 L460.00,396.35 L462.00,396.61 L464.00,396.87 L466.00,397.13 L468.00,397.39 L470.00,397.65 L472.00,397.91 L474.00,398.17 L476.00,398.43 L478.00,398.70 L480.00,398.96 L482.00,399.23 L484.00,399.49 L486.00,399.76 L488.00,400.03 L490.00,400.30 L492.00,400.58 L494.00,400.85 L496.00,401.13 L498.00,401.41 L500.00,401.69 L502.00,401.97 L504.00,402.26 L506.00,402.54 L508.00,402.84 L510.00,403.13 L512.00,403.43 L514.00,403.73 L516.00,404.03 L518.00,404.34 L520.00,404.65 L522.00,404.97 L524.00,405.30 L526.00,405.62 L528.00,405.96 L530.00,406.30 L532.00,406.64 L534.00,407.00 L536.00,407.36 L538.00,407.72 L540.00,408.10 L542.00,408.48 L544.00,408.88 L546.00,409.28 L548.00,409.69 L550.00,410.11 L552.00,410.55 L554.00,410.99 L556.00,411.45 L558.00,411.91 L560.00,412.39 L562.00,412.89 L564.00,413.39 L566.00,413.91 L568.00,414.45 L570.00,414.99 L572.00,415.55 L574.00,416.13 L576.00,416.72 L578.00,417.33 L580.00,417.95 L582.00,418.59 L584.00,419.24 L586.00,419.90 L588.00,420.58 L590.00,421.28 L592.00,421.99 L594.00,422.71 L596.00,423.45 L598.00,424.20 L600.00,424.96 L602.00,425.74 L604.00,426.53 L606.00,427.33 L608.00,428.14 L610.00,428.96 L612.00,429.80 L614.00,430.64 L616.00,431.50 L618.00,432.36 L620.00,433.23 L622.00,434.12 L624.00,435.01 L626.00,435.90 L628.00,436.81 L630.00,437.72 L632.00,438.63 L634.00,439.56 L636.00,440.49 L638.00,441.42 L640.00,442.36 L642.00,443.30 L644.00,444.25 L646.00,445.20 L648.00,446.16 L650.00,447.12 L652.00,448.08 L654.00,449.04 L656.00,450.01 L658.00,450.98 L660.00,451.96 L662.00,452.93 L664.00,453.91 L666.00,454.89 L668.00,455.87 L670.00,456.86 L672.00,457.84 L674.00,458.83 L676.00,459.82 L678.00,460.81 L680.00,461.80 L682.00,462.79 L684.00,463.78 L686.00,464.78 L688.00,465.77 L690.00,466.77 L692.00,467.76 L694.00,468.76 L696.00,469.76 L698.00,470.76 L700.00,471.75 L702.00,472.75 L704.00,473.75 L706.00,474.75 L708.00,475.75 L710.00,476.75 L712.00,477.76 L714.00,478.76 L716.00,479.76 L718.00,480.76 L720.00,481.76 L722.00,482.77 L724.00,483.77 L726.00,484.77 L728.00,485.77 L730.00,486.78 L732.00,487.78 L734.00,488.78 L736.00,489.79 L738.00,490.79 L740.00,491.80 L742.00,492.80 L744.00,493.80 L746.00,494.81 L748.00,495.81 L750.00,496.82 L752.00,497.82 L754.00,498.83 L756.00,499.83 L756.60,500.13" fill="none" stroke="#00ff00" stroke-width="0.8"/>
<path d="M232.30,225.30 L233.76,226.78 L235.63,228.69 L237.85,230.94 L240.34,233.47 L243.02,236.19 L245.82,239.04 L248.68,241.95 L251.51,244.82 L254.24,247.60 L256.80,250.20 L259.25,252.69 L261.70,255.18 L264.16,257.68 L266.61,260.17 L269.06,262.66 L271.51,265.15 L273.96,267.64 L276.41,270.13 L278.86,272.62 L281.30,275.10 L283.74,277.58 L286.17,280.05 L288.60,282.52 L291.03,284.99 L293.46,287.46 L295.88,289.93 L298.31,292.40 L300.74,294.86 L303.17,297.33 L305.60,299.80 L308.09,302.32 L310.67,304.93 L313.29,307.59 L315.93,310.26 L318.55,312.91 L321.11,315.49 L323.57,317.98 L325.89,320.33 L328.05,322.52 L330.00,324.50 L331.72,326.25 L333.23,327.79 L334.58,329.17 L335.79,330.41 L336.91,331.55 L337.96,332.63 L338.99,333.69 L340.03,334.77 L341.12,335.89 L342.30,337.10 L343.53,338.38 L344.76,339.67 L345.99,340.97 L347.22,342.28 L348.45,343.58 L349.68,344.87 L350.91,346.15 L352.14,347.40 L353.37,348.62 L354.60,349.80 L355.84,350.96 L357.10,352.12 L358.37,353.27 L359.64,354.40 L360.91,355.51 L362.16,356.57 L363.39,357.59 L364.60,358.56 L365.77,359.47 L366.90,360.30 L367.99,361.06 L369.04,361.77 L370.06,362.41 L371.06,363.00 L372.03,363.55 L372.99,364.05 L373.93,364.51 L374.86,364.94 L375.78,365.33 L376.70,365.70 L377.61,366.03 L378.50,366.30 L379.37,366.52 L380.23,366.70 L381.07,366.86 L381.92,366.98 L382.76,367.09 L383.60,367.20 L384.45,367.30 L385.30,367.40 L386.17,367.50 L387.06,367.59 L387.96,367.67 L388.86,367.74 L389.76,367.79 L390.64,367.84 L391.50,367.87 L392.34,367.89 L393.14,367.90 L393.90,367.90 L394.60,367.89 L395.25,367.86 L395.85,367.83 L396.42,367.78 L396.98,367.72 L397.54,367.66 L398.10,367.58 L398.69,367.50 L399.32,367.40 L400.00,367.30 L400.73,367.19 L401.49,367.07 L402.28,366.94 L403.10,366.81 L403.93,366.66 L404.76,366.51 L405.61,366.34 L406.45,366.17 L407.28,365.99 L408.10,365.80 L408.93,365.60 L409.79,365.37 L410.66,365.14 L411.54,364.89 L412.41,364.64 L413.26,364.39 L414.07,364.13 L414.84,363.88 L415.56,363.63 L416.20,363.40 L416.77,363.18 L417.26,362.96 L417.70,362.76 L418.09,362.55 L418.45,362.35 L418.79,362.14 L419.12,361.93 L419.46,361.71 L419.81,361.49 L420.20,361.25 L420.61,361.00 L421.02,360.75 L421.43,360.50 L421.84,360.24 L422.25,359.97 L422.66,359.70 L423.07,359.41 L423.48,359.12 L423.89,358.82 L424.30,358.50 L424.71,358.16 L425.14,357.79 L425.58,357.40 L426.02,357.00 L426.45,356.59 L426.87,356.19 L427.27,355.80 L427.65,355.43 L427.99,355.10 L428.30,354.80 L428.56,354.54 L428.78,354.32 L428.96,354.12 L429.12,353.95 L429.26,353.79 L429.39,353.64 L429.52,353.49 L429.66,353.34 L429.82,353.18 L430.00,353.00 L430.21,352.81 L430.43,352.61 L430.67,352.40 L430.91,352.19 L431.16,351.98 L431.40,351.78 L431.64,351.58 L431.88,351.40 L432.10,351.24 L432.30,351.10 L432.50,350.98 L432.69,350.87 L432.88,350.78 L433.07,350.70 L433.24,350.63 L433.41,350.57 L433.56,350.52 L433.69,350.48 L433.81,350.44 L433.90,350.40 L434.18,350.53 L434.57,350.71 L435.03,350.94 L435.50,351.20 L435.96,351.50 L436.44,351.85 L436.96,352.22 L437.50,352.60 L438.10,353.00 L438.75,353.44 L439.40,353.85 L440.00,354.20 L440.55,354.47 L441.07,354.69 L441.55,354.86 L442.00,355.00 L442.43,355.10 L442.82,355.15 L443.16,355.18 L443.40,355.20 L443.45,354.87 L443.50,354.87 L443.55,354.86 L443.60,354.86 L443.65,354.85 L443.70,354.84 L443.75,354.84 L443.80,354.83 L443.85,354.82 L443.90,354.81 L443.95,354.80 L444.00,354.79 L444.05,354.78 L444.10,354.77 L444.15,354.76 L444.20,354.75 L444.25,354.74 L444.30,354.73 L444.35,354.71 L444.40,354.70 L444.45,354.69 L444.50,354.67 L444.55,354.66 L444.60,354.64 L444.65,354.63 L444.70,354.61 L444.75,354.60 L444.80,354.58 L444.85,354.56 L444.90,354.55 L444.95,354.53 L445.00,354.51 L445.05,354.49 L445.10,354.47 L445.15,354.45 L445.20,354.43 L445.25,354.41 L445.30,354.38 L445.35,354.36 L445.40,354.34 L445.45,354.31 L445.50,354.29 L445.55,354.26 L445.60,354.24 L445.65,354.21 L445.70,354.19 L445.75,354.16 L445.80,354.13 L445.85,354.10 L445.90,354.08 L445.95,354.05 L446.00,354.02 L446.05,353.99 L446.10,353.95 L446.15,353.92 L446.20,353.89 L446.25,353.86 L446.30,353.82 L446.35,353.79 L446.40,353.76 L446.45,353.72 L446.50,353.68 L446.55,353.65 L446.60,353.61 L446.65,353.57 L446.70,353.53 L446.75,353.50 L446.80,353.46 L446.85,353.42 L446.90,353.38 L446.95,353.34 L447.00,353.29 L447.05,353.25 L447.10,353.21 L447.15,353.17 L447.20,353.12 L447.25,353.08 L447.30,353.03 L447.35,352.99 L447.40,352.94 L447.45,352.89 L447.50,352.85 L447.55,352.80 L447.60,352.75 L447.65,352.70 L447.70,352.65 L447.75,352.60 L447.80,352.55 L447.85,352.50 L447.90,352.45 L447.95,352.40 L448.00,352.35 L448.05,352.29 L448.10,352.24 L448.15,352.19 L448.20,352.13 L448.25,352.08 L448.30,352.02 L448.35,351.97 L448.40,351.91 L448.45,351.86 L448.50,351.80 L448.55,351.74 L448.60,351.68 L448.65,351.63 L448.70,351.57 L448.75,351.51 L448.80,351.45 L448.85,351.39 L448.90,351.33 L448.95,351.27 L449.00,351.21 L449.05,351.15 L449.10,351.09 L449.15,351.03 L449.20,350.97 L449.25,350.90 L449.30,350.84 L449.35,350.78 L449.40,350.72 L449.45,350.65 L449.50,350.59 L449.55,350.53 L449.60,350.47 L449.65,350.40 L449.70,350.34 L449.75,350.27 L449.80,350.21 L449.85,350.15 L449.90,350.08 L449.95,350.02 L450.00,349.95 L450.05,349.89 L450.10,349.83 L450.15,349.76 L450.20,349.70 L450.25,349.63 L450.30,349.57 L450.35,349.50 L450.40,349.44 L450.45,349.38 L450.50,349.31 L450.55,349.25 L450.60,349.18 L450.65,349.12 L450.70,349.06 L450.75,348.99 L450.80,348.93 L450.85,348.87 L450.90,348.80 L450.95,348.74 L451.00,348.68 L451.05,348.61 L451.10,348.55 L451.15,348.49 L451.20,348.43 L451.25,348.37 L451.30,348.31 L451.35,348.24 L451.40,348.18 L451.45,348.12 L451.50,348.06 L451.55,348.00 L451.60,347.95 L451.65,347.89 L451.70,347.83 L451.75,347.77 L451.80,347.71 L451.85,347.66 L451.90,347.60 L451.95,347.54 L452.00,347.49 L452.05,347.43 L452.10,347.38 L452.15,347.32 L452.20,347.27 L452.25,347.22 L452.30,347.16 L452.35,347.11 L452.40,347.06 L452.45,347.01 L452.50,346.96 L452.55,346.91 L452.60,346.86 L452.65,346.86 L452.70,346.86 L452.75,346.87 L452.80,346.87 L452.85,346.88 L452.90,346.89 L452.95,346.89 L453.00,346.90 L453.05,346.91 L453.10,346.92 L453.15,346.93 L453.20,346.94 L453.25,346.95 L453.30,346.97 L453.35,346.98 L453.40,346.99 L453.45,347.01 L453.50,347.02 L453.55,347.04 L453.60,347.06 L453.65,347.07 L453.70,347.09 L453.75,347.11 L453.80,347.13 L453.85,347.15 L453.90,347.17 L453.95,347.19 L454.00,347.21 L454.05,347.23 L454.10,347.25 L454.15,347.27 L454.20,347.30 L454.25,347.32 L454.30,347.34 L454.35,347.37 L454.40,347.39 L454.45,347.42 L454.50,347.44 L454.55,347.47 L454.60,347.49 L454.65,347.52 L454.70,347.55 L454.75,347.57 L454.80,347.60 L454.85,347.63 L454.90,347.65 L454.95,347.68 L455.00,347.71 L455.05,347.74 L455.10,347.77 L455.15,347.79 L455.20,347.82 L455.25,347.85 L455.30,347.88 L455.35,347.91 L455.40,347.93 L455.45,347.96 L455.50,347.99 L455.55,348.02 L455.60,348.04 L455.65,348.07 L455.70,348.10 L455.75,348.12 L455.80,348.15 L455.85,348.18 L455.90,348.20 L455.95,348.23 L456.00,348.25 L456.05,348.28 L456.10,348.30 L456.15,348.33 L456.20,348.35 L456.25,348.37 L456.30,348.39 L456.35,348.41 L456.40,348.43 L456.45,348.45 L456.50,348.47 L456.55,348.49 L456.60,348.51 L456.65,348.53 L456.70,348.54 L456.75,348.56 L456.80,348.57 L456.85,348.59 L456.90,348.60 L456.95,348.61 L457.00,348.62 L457.05,348.62 L457.10,348.63 L457.15,348.63 L457.20,348.63 L457.25,348.63 L457.30,348.63 L457.35,348.63 L457.40,348.63 L457.45,348.62 L457.50,348.62 L457.55,348.61 L457.60,348.60 L457.65,348.59 L457.70,348.58 L457.75,348.57 L457.80,348.55 L457.85,348.54 L457.90,348.52 L457.95,348.50 L458.00,348.48 L458.05,348.46 L458.10,348.44 L458.15,348.42 L458.20,348.39 L458.25,348.37 L458.30,348.34 L458.35,348.31 L458.40,348.28 L458.45,348.24 L458.50,348.21 L458.55,348.17 L458.60,348.13 L458.65,348.09 L458.70,348.05 L458.75,348.01 L458.80,347.97 L458.85,347.92 L458.90,347.87 L458.95,347.83 L459.00,347.78 L459.05,347.72 L459.10,347.67 L459.15,347.62 L459.20,347.56 L459.25,347.50 L459.30,347.44 L459.35,347.38 L459.40,347.32 L459.45,347.26 L459.50,347.19 L459.55,347.13 L459.60,347.06 L459.65,346.99 L459.70,346.92 L459.75,346.85 L459.80,346.78 L459.85,346.70 L459.90,346.63 L459.95,346.55 L460.00,346.47 L460.05,346.39 L460.10,346.32 L460.15,346.23 L460.20,346.15 L460.25,346.07 L460.30,345.99 L460.35,345.90 L460.40,345.82 L460.45,345.73 L460.50,345.65 L460.55,345.56 L460.60,345.47 L460.65,345.38 L460.70,345.29 L460.75,345.20 L460.80,345.11 L460.85,345.02 L460.90,344.93 L460.95,344.84 L461.00,344.75 L461.05,344.66 L461.10,344.57 L461.15,344.48 L461.20,344.38 L461.25,344.29 L461.30,344.20 L461.35,344.11 L461.40,344.02 L461.45,343.93 L461.50,343.83 L461.55,343.74 L461.60,343.65 L461.65,343.56 L461.70,343.47 L461.75,343.38 L461.80,343.30 L461.85,343.21 L461.90,343.12 L461.95,343.03 L462.00,342.95 L462.05,342.86 L462.10,342.78 L462.15,342.70 L462.20,342.61 L462.25,342.53 L462.30,342.45 L462.35,342.37 L462.40,342.29 L462.45,342.22 L462.50,342.14 L462.55,342.06 L462.60,341.99 L462.65,341.92 L462.70,341.85 L462.75,341.78 L462.80,341.71 L462.85,341.65 L462.90,341.66 L462.95,341.68 L463.00,341.69 L463.05,341.71 L463.10,341.73 L463.15,341.75 L463.20,341.77 L463.25,341.79 L463.30,341.82 L463.35,341.85 L463.40,341.87 L463.45,341.90 L463.50,341.93 L463.55,341.96 L463.60,342.00 L463.65,342.03 L463.70,342.06 L463.75,342.10 L463.80,342.14 L463.85,342.18 L463.90,342.22 L463.95,342.26 L464.00,342.30 L464.05,342.34 L464.10,342.38 L464.15,342.42 L464.20,342.47 L464.25,342.51 L464.30,342.56 L464.35,342.60 L464.40,342.65 L464.45,342.69 L464.50,342.74 L464.55,342.79 L464.60,342.83 L464.65,342.88 L464.70,342.93 L464.75,342.97 L464.80,343.02 L464.85,343.06 L464.90,343.11 L464.95,343.15 L465.00,343.20 L465.05,343.24 L465.10,343.28 L465.15,343.32 L465.20,343.36 L465.25,343.40 L465.30,343.44 L465.35,343.48 L465.40,343.51 L465.45,343.55 L465.50,343.59 L465.55,343.63 L465.60,343.66 L465.65,343.70 L465.70,343.73 L465.75,343.76 L465.80,343.78 L465.85,343.81 L465.90,343.83 L465.95,343.85 L466.00,343.87 L466.05,343.89 L466.10,343.90 L466.15,343.92 L466.20,343.92 L466.25,343.93 L466.30,343.93 L466.35,343.94 L466.40,343.93 L466.45,343.93 L466.50,343.92 L466.55,343.91 L466.60,343.90 L466.65,343.88 L466.70,343.87 L466.75,343.84 L466.80,343.82 L466.85,343.79 L466.90,343.76 L466.95,343.73 L467.00,343.69 L467.05,343.65 L467.10,343.61 L467.15,343.56 L467.20,343.51 L467.25,343.46 L467.30,343.41 L467.35,343.35 L467.40,343.29 L467.45,343.23 L467.50,343.16 L467.55,343.09 L467.60,343.02 L467.65,342.95 L467.70,342.87 L467.75,342.79 L467.80,342.71 L467.85,342.62 L467.90,342.54 L467.95,342.45 L468.00,342.36 L468.05,342.27 L468.10,342.17 L468.15,342.08 L468.20,341.98 L468.25,341.88 L468.30,341.78 L468.35,341.67 L468.40,341.57 L468.45,341.47 L468.50,341.36 L468.55,341.25 L468.60,341.15 L468.65,341.04 L468.70,340.93 L468.75,340.82 L468.80,340.71 L468.85,340.60 L468.90,340.49 L468.95,340.38 L469.00,340.27 L469.05,340.16 L469.10,340.05 L469.15,339.94 L469.20,339.84 L469.25,339.73 L469.30,339.62 L469.35,339.52 L469.40,339.42 L469.45,339.31 L469.50,339.21 L469.55,339.11 L469.60,339.02 L469.65,338.92 L469.70,338.83 L469.75,338.74 L469.80,338.65 L469.85,338.56 L469.90,338.47 L469.95,338.39 L470.00,338.31 L470.05,338.23 L470.10,338.15 L470.15,338.16 L470.20,338.19 L470.25,338.23 L470.30,338.27 L470.35,338.31 L470.40,338.35 L470.45,338.40 L470.50,338.45 L470.55,338.50 L470.60,338.55 L470.65,338.61 L470.70,338.67 L470.75,338.73 L470.80,338.79 L470.85,338.85 L470.90,338.92 L470.95,338.98 L471.00,339.05 L471.05,339.12 L471.10,339.19 L471.15,339.26 L471.20,339.33 L471.25,339.41 L471.30,339.48 L471.35,339.56 L471.40,339.63 L471.45,339.70 L471.50,339.78 L471.55,339.85 L471.60,339.93 L471.65,340.00 L471.70,340.07 L471.75,340.14 L471.80,340.21 L471.85,340.28 L471.90,340.34 L471.95,340.41 L472.00,340.47 L472.05,340.53 L472.10,340.59 L472.15,340.64 L472.20,340.70 L472.25,340.75 L472.30,340.79 L472.35,340.84 L472.40,340.87 L472.45,340.91 L472.50,340.94 L472.55,340.97 L472.60,341.00 L472.65,341.02 L472.70,341.03 L472.75,341.04 L472.80,341.05 L472.85,341.05 L472.90,341.05 L472.95,341.04 L473.00,341.03 L473.05,341.02 L473.10,340.99 L473.15,340.97 L473.20,340.94 L473.25,340.90 L473.30,340.85 L473.35,340.80 L473.40,340.74 L473.45,340.68 L473.50,340.62 L473.55,340.55 L473.60,340.47 L473.65,340.40 L473.70,340.31 L473.75,340.22 L473.80,340.13 L473.85,340.04 L473.90,339.93 L473.95,339.83 L474.00,339.72 L474.05,339.61 L474.10,339.50 L474.15,339.38 L474.20,339.26 L474.25,339.13 L474.30,339.01 L474.35,338.88 L474.40,338.75 L474.45,338.62 L474.50,338.49 L474.55,338.35 L474.60,338.22 L474.65,338.08 L474.70,337.94 L474.75,337.81 L474.80,337.67 L474.85,337.53 L474.90,337.40 L474.95,337.26 L475.00,337.13 L475.05,336.99 L475.10,336.86 L475.15,336.73 L475.20,336.60 L475.25,336.48 L475.30,336.36 L475.35,336.24 L475.40,336.12 L475.45,336.00 L475.50,335.89 L475.55,335.78 L475.60,335.68 L475.65,335.58 L475.70,335.48 L475.75,335.40 L475.80,335.44 L475.85,335.49 L475.90,335.54 L475.95,335.59 L476.00,335.65 L476.05,335.71 L476.10,335.77 L476.15,335.84 L476.20,335.91 L476.25,335.99 L476.30,336.06 L476.35,336.14 L476.40,336.23 L476.45,336.31 L476.50,336.40 L476.55,336.49 L476.60,336.58 L476.65,336.67 L476.70,336.76 L476.75,336.86 L476.80,336.95 L476.85,337.04 L476.90,337.13 L476.95,337.23 L477.00,337.32 L477.05,337.41 L477.10,337.49 L477.15,337.58 L477.20,337.66 L477.25,337.74 L477.30,337.82 L477.35,337.89 L477.40,337.96 L477.45,338.02 L477.50,338.08 L477.55,338.14 L477.60,338.18 L477.65,338.23 L477.70,338.27 L477.75,338.30 L477.80,338.33 L477.85,338.35 L477.90,338.36 L477.95,338.36 L478.00,338.36 L478.05,338.35 L478.10,338.34 L478.15,338.32 L478.20,338.29 L478.25,338.25 L478.30,338.20 L478.35,338.15 L478.40,338.09 L478.45,338.03 L478.50,337.95 L478.55,337.87 L478.60,337.78 L478.65,337.69 L478.70,337.59 L478.75,337.48 L478.80,337.37 L478.85,337.25 L478.90,337.12 L478.95,336.99 L479.00,336.86 L479.05,336.72 L479.10,336.58 L479.15,336.43 L479.20,336.28 L479.25,336.13 L479.30,335.98 L479.35,335.82 L479.40,335.66 L479.45,335.50 L479.50,335.34 L479.55,335.18 L479.60,335.02 L479.65,334.86 L479.70,334.71 L479.75,334.55 L479.80,334.40 L479.85,334.24 L479.90,334.10 L479.95,333.95 L480.00,333.81 L480.05,333.67 L480.10,333.54 L480.15,333.41 L480.20,333.29 L480.25,333.17 L480.30,333.05 L480.35,332.95 L480.40,333.00 L480.45,333.06 L480.50,333.13 L480.55,333.20 L480.60,333.28 L480.65,333.36 L480.70,333.45 L480.75,333.54 L480.80,333.64 L480.85,333.74 L480.90,333.84 L480.95,333.95 L481.00,334.06 L481.05,334.17 L481.10,334.29 L481.15,334.40 L481.20,334.52 L481.25,334.63 L481.30,334.75 L481.35,334.86 L481.40,334.98 L481.45,335.09 L481.50,335.20 L481.55,335.30 L481.60,335.40 L481.65,335.50 L481.70,335.59 L481.75,335.67 L481.80,335.75 L481.85,335.82 L481.90,335.89 L481.95,335.95 L482.00,336.00 L482.05,336.04 L482.10,336.07 L482.15,336.09 L482.20,336.10 L482.25,336.11 L482.30,336.10 L482.35,336.08 L482.40,336.05 L482.45,336.02 L482.50,335.97 L482.55,335.91 L482.60,335.84 L482.65,335.77 L482.70,335.68 L482.75,335.59 L482.80,335.48 L482.85,335.37 L482.90,335.25 L482.95,335.12 L483.00,334.98 L483.05,334.84 L483.10,334.69 L483.15,334.53 L483.20,334.37 L483.25,334.20 L483.30,334.03 L483.35,333.86 L483.40,333.68 L483.45,333.50 L483.50,333.32 L483.55,333.14 L483.60,332.96 L483.65,332.78 L483.70,332.61 L483.75,332.43 L483.80,332.26 L483.85,332.10 L483.90,331.93 L483.95,331.78 L484.00,331.62 L484.05,331.48 L484.10,331.34 L484.15,331.21 L484.20,331.08 L484.25,330.99 L484.30,331.07 L484.35,331.15 L484.40,331.24 L484.45,331.33 L484.50,331.44 L484.55,331.55 L484.60,331.66 L484.65,331.78 L484.70,331.91 L484.75,332.04 L484.80,332.18 L484.85,332.32 L484.90,332.46 L484.95,332.60 L485.00,332.74 L485.05,332.88 L485.10,333.02 L485.15,333.16 L485.20,333.30 L485.25,333.43 L485.30,333.55 L485.35,333.67 L485.40,333.79 L485.45,333.89 L485.50,333.99 L485.55,334.08 L485.60,334.16 L485.65,334.23 L485.70,334.28 L485.75,334.33 L485.80,334.36 L485.85,334.38 L485.90,334.39 L485.95,334.38 L486.00,334.36 L486.05,334.32 L486.10,334.28 L486.15,334.21 L486.20,334.14 L486.25,334.05 L486.30,333.95 L486.35,333.84 L486.40,333.71 L486.45,333.57 L486.50,333.43 L486.55,333.27 L486.60,333.10 L486.65,332.93 L486.70,332.75 L486.75,332.56 L486.80,332.36 L486.85,332.17 L486.90,331.97 L486.95,331.77 L487.00,331.56 L487.05,331.36 L487.10,331.16 L487.15,330.96 L487.20,330.77 L487.25,330.58 L487.30,330.39 L487.35,330.21 L487.40,330.04 L487.45,329.88 L487.50,329.72 L487.55,329.58 L487.60,329.44 L487.65,329.46 L487.70,329.56 L487.75,329.66 L487.80,329.78 L487.85,329.90 L487.90,330.03 L487.95,330.17 L488.00,330.31 L488.05,330.47 L488.10,330.62 L488.15,330.78 L488.20,330.95 L488.25,331.11 L488.30,331.28 L488.35,331.44 L488.40,331.60 L488.45,331.76 L488.50,331.91 L488.55,332.06 L488.60,332.20 L488.65,332.33 L488.70,332.45 L488.75,332.55 L488.80,332.65 L488.85,332.73 L488.90,332.80 L488.95,332.85 L489.00,332.88 L489.05,332.90 L489.10,332.90 L489.15,332.89 L489.20,332.85 L489.25,332.80 L489.30,332.73 L489.35,332.65 L489.40,332.54 L489.45,332.42 L489.50,332.29 L489.55,332.14 L489.60,331.98 L489.65,331.80 L489.70,331.62 L489.75,331.42 L489.80,331.21 L489.85,331.00 L489.90,330.78 L489.95,330.56 L490.00,330.34 L490.05,330.11 L490.10,329.89 L490.15,329.67 L490.20,329.45 L490.25,329.24 L490.30,329.04 L490.35,328.84 L490.40,328.65 L490.45,328.48 L490.50,328.31 L490.55,328.16 L490.60,328.07 L490.65,328.17 L490.70,328.29 L490.75,328.42 L490.80,328.56 L490.85,328.72 L490.90,328.88 L490.95,329.04 L491.00,329.22 L491.05,329.40 L491.10,329.58 L491.15,329.77 L491.20,329.96 L491.25,330.14 L491.30,330.32 L491.35,330.50 L491.40,330.67 L491.45,330.82 L491.50,330.97 L491.55,331.11 L491.60,331.23 L491.65,331.34 L491.70,331.42 L491.75,331.49 L491.80,331.55 L491.85,331.58 L491.90,331.59 L491.95,331.58 L492.00,331.54 L492.05,331.49 L492.10,331.42 L492.15,331.32 L492.20,331.21 L492.25,331.07 L492.30,330.92 L492.35,330.75 L492.40,330.57 L492.45,330.37 L492.50,330.16 L492.55,329.94 L492.60,329.71 L492.65,329.48 L492.70,329.24 L492.75,329.00 L492.80,328.77 L492.85,328.53 L492.90,328.30 L492.95,328.08 L493.00,327.86 L493.05,327.66 L493.10,327.46 L493.15,327.28 L493.20,327.11 L493.25,326.96 L493.30,327.07 L493.35,327.20 L493.40,327.34 L493.45,327.49 L493.50,327.66 L493.55,327.84 L493.60,328.02 L493.65,328.21 L493.70,328.41 L493.75,328.61 L493.80,328.81 L493.85,329.01 L493.90,329.20 L493.95,329.39 L494.00,329.57 L494.05,329.73 L494.10,329.89 L494.15,330.02 L494.20,330.14 L494.25,330.24 L494.30,330.31 L494.35,330.37 L494.40,330.40 L494.45,330.40 L494.50,330.38 L494.55,330.34 L494.60,330.27 L494.65,330.17 L494.70,330.05 L494.75,329.91 L494.80,329.75 L494.85,329.57 L494.90,329.37 L494.95,329.16 L495.00,328.93 L495.05,328.70 L495.10,328.45 L495.15,328.20 L495.20,327.95 L495.25,327.70 L495.30,327.45 L495.35,327.21 L495.40,326.98 L495.45,326.75 L495.50,326.54 L495.55,326.35 L495.60,326.16 L495.65,326.00 L495.70,326.08 L495.75,326.22 L495.80,326.37 L495.85,326.54 L495.90,326.72 L495.95,326.91 L496.00,327.11 L496.05,327.32 L496.10,327.54 L496.15,327.75 L496.20,327.96 L496.25,328.17 L496.30,328.37 L496.35,328.55 L496.40,328.73 L496.45,328.88 L496.50,329.02 L496.55,329.14 L496.60,329.23 L496.65,329.29 L496.70,329.33 L496.75,329.34 L496.80,329.32 L496.85,329.27 L496.90,329.19 L496.95,329.08 L497.00,328.95 L497.05,328.79 L497.10,328.61 L497.15,328.40 L497.20,328.18 L497.25,327.95 L497.30,327.70 L497.35,327.44 L497.40,327.18 L497.45,326.91 L497.50,326.65 L497.55,326.39 L497.60,326.14 L497.65,325.90 L497.70,325.68 L497.75,325.47 L497.80,325.28 L497.85,325.11 L497.90,325.21 L497.95,325.36 L498.00,325.52 L498.05,325.71 L498.10,325.90 L498.15,326.11 L498.20,326.33 L498.25,326.56 L498.30,326.78 L498.35,327.01 L498.40,327.23 L498.45,327.44 L498.50,327.63 L498.55,327.81 L498.60,327.97 L498.65,328.11 L498.70,328.22 L498.75,328.30 L498.80,328.34 L498.85,328.36 L498.90,328.34 L498.95,328.30 L499.00,328.21 L499.05,328.10 L499.10,327.95 L499.15,327.78 L499.20,327.58 L499.25,327.36 L499.30,327.12 L499.35,326.86 L499.40,326.60 L499.45,326.32 L499.50,326.05 L499.55,325.77 L499.60,325.50 L499.65,325.24 L499.70,325.00 L499.75,324.77 L499.80,324.55 L499.85,324.36 L499.90,324.34 L499.95,324.49 L500.00,324.66 L500.05,324.85 L500.10,325.06 L500.15,325.28 L500.20,325.51 L500.25,325.74 L500.30,325.98 L500.35,326.22 L500.40,326.44 L500.45,326.66 L500.50,326.86 L500.55,327.03 L500.60,327.18 L500.65,327.30 L500.70,327.39 L500.75,327.44 L500.80,327.46 L500.85,327.44 L500.90,327.38 L500.95,327.29 L501.00,327.16 L501.05,326.99 L501.10,326.80 L501.15,326.58 L501.20,326.33 L501.25,326.07 L501.30,325.79 L501.35,325.51 L501.40,325.22 L501.45,324.94 L501.50,324.66 L501.55,324.39 L501.60,324.14 L501.65,323.91 L501.70,323.70 L501.75,323.53 L501.80,323.67 L501.85,323.85 L501.90,324.04 L501.95,324.26 L502.00,324.49 L502.05,324.73 L502.10,324.98 L502.15,325.22 L502.20,325.47 L502.25,325.70 L502.30,325.92 L502.35,326.12 L502.40,326.29 L502.45,326.43 L502.50,326.53 L502.55,326.60 L502.60,326.63 L502.65,326.61 L502.70,326.55 L502.75,326.45 L502.80,326.31 L502.85,326.14 L502.90,325.93 L502.95,325.69 L503.00,325.43 L503.05,325.15 L503.10,324.85 L503.15,324.55 L503.20,324.25 L503.25,323.96 L503.30,323.68 L503.35,323.41 L503.40,323.17 L503.45,322.95 L503.50,322.83 L503.55,322.98 L503.60,323.17 L503.65,323.38 L503.70,323.61 L503.75,323.85 L503.80,324.11 L503.85,324.36 L503.90,324.62 L503.95,324.87 L504.00,325.09 L504.05,325.30 L504.10,325.48 L504.15,325.62 L504.20,325.72 L504.25,325.78 L504.30,325.80 L504.35,325.77 L504.40,325.69 L504.45,325.56 L504.50,325.40 L504.55,325.19 L504.60,324.95 L504.65,324.69 L504.70,324.40 L504.75,324.10 L504.80,323.79 L504.85,323.48 L504.90,323.17 L504.95,322.88 L505.00,322.61 L505.05,322.37 L505.10,322.16 L505.15,322.17 L505.20,322.35 L505.25,322.56 L505.30,322.79 L505.35,323.04 L505.40,323.30 L505.45,323.57 L505.50,323.83 L505.55,324.09 L505.60,324.33 L505.65,324.54 L505.70,324.72 L505.75,324.86 L505.80,324.95 L505.85,325.00 L505.90,325.00 L505.95,324.95 L506.00,324.84 L506.05,324.69 L506.10,324.49 L506.15,324.25 L506.20,323.98 L506.25,323.69 L506.30,323.38 L506.35,323.06 L506.40,322.74 L506.45,322.43 L506.50,322.13 L506.55,321.86 L506.60,321.62 L506.65,321.41 L506.70,321.57 L506.75,321.77 L506.80,321.99 L506.85,322.25 L506.90,322.51 L506.95,322.79 L507.00,323.07 L507.05,323.33 L507.10,323.58 L507.15,323.80 L507.20,323.99 L507.25,324.13 L507.30,324.22 L507.35,324.26 L507.40,324.25 L507.45,324.17 L507.50,324.05 L507.55,323.87 L507.60,323.64 L507.65,323.38 L507.70,323.09 L507.75,322.77 L507.80,322.44 L507.85,322.11 L507.90,321.79 L507.95,321.49 L508.00,321.21 L508.05,320.96 L508.10,320.79 L508.15,320.96 L508.20,321.18 L508.25,321.42 L508.30,321.69 L508.35,321.97 L508.40,322.25 L508.45,322.54 L508.50,322.80 L508.55,323.04 L508.60,323.25 L508.65,323.40 L508.70,323.51 L508.75,323.56 L508.80,323.55 L508.85,323.47 L508.90,323.34 L508.95,323.16 L509.00,322.92 L509.05,322.64 L509.10,322.33 L509.15,322.00 L509.20,321.66 L509.25,321.33 L509.30,321.00 L509.35,320.70 L509.40,320.44 L509.45,320.20 L509.50,320.31 L509.55,320.52 L509.60,320.76 L509.65,321.04 L509.70,321.33 L509.75,321.62 L509.80,321.91 L509.85,322.18 L509.90,322.42 L509.95,322.63 L510.00,322.78 L510.05,322.87 L510.10,322.89 L510.15,322.85 L510.20,322.74 L510.25,322.57 L510.30,322.35 L510.35,322.08 L510.40,321.76 L510.45,321.43 L510.50,321.08 L510.55,320.73 L510.60,320.39 L510.65,320.08 L510.70,319.80 L510.75,319.57 L510.80,319.71 L510.85,319.93 L510.90,320.19 L510.95,320.47 L511.00,320.77 L511.05,321.07 L511.10,321.35 L511.15,321.62 L511.20,321.84 L511.25,322.02 L511.30,322.13 L511.35,322.18 L511.40,322.16 L511.45,322.06 L511.50,321.90 L511.55,321.67 L511.60,321.40 L511.65,321.08 L511.70,320.73 L511.75,320.38 L511.80,320.02 L511.85,319.68 L511.90,319.37 L511.95,319.10 L512.00,318.97 L512.05,319.17 L512.10,319.41 L512.15,319.69 L512.20,319.99 L512.25,320.30 L512.30,320.60 L512.35,320.88 L512.40,321.12 L512.45,321.31 L512.50,321.44 L512.55,321.50 L512.60,321.48 L512.65,321.39 L512.70,321.22 L512.75,320.99 L512.80,320.70 L512.85,320.37 L512.90,320.01 L512.95,319.64 L513.00,319.28 L513.05,318.95 L513.10,318.64 L513.15,318.39 L513.20,318.48 L513.25,318.71 L513.30,318.98 L513.35,319.28 L513.40,319.60 L513.45,319.91 L513.50,320.20 L513.55,320.46 L513.60,320.66 L513.65,320.79 L513.70,320.85 L513.75,320.83 L513.80,320.73 L513.85,320.55 L513.90,320.30 L513.95,320.00 L514.00,319.65 L514.05,319.28 L514.10,318.91 L514.15,318.55 L514.20,318.22 L514.25,317.94 L514.30,317.82 L514.35,318.04 L514.40,318.31 L514.45,318.61 L514.50,318.93 L514.55,319.25 L514.60,319.55 L514.65,319.82 L514.70,320.03 L514.75,320.17 L514.80,320.24 L514.85,320.21 L514.90,320.10 L514.95,319.91 L515.00,319.65 L515.05,319.33 L515.10,318.97 L515.15,318.59 L515.20,318.21 L515.25,317.86 L515.30,317.54 L515.35,317.27 L515.40,317.39 L515.45,317.64 L515.50,317.93 L515.55,318.26 L515.60,318.58 L515.65,318.90 L515.70,319.18 L515.75,319.41 L515.80,319.57 L515.85,319.64 L515.90,319.62 L515.95,319.51 L516.00,319.31 L516.05,319.04 L516.10,318.71 L516.15,318.34 L516.20,317.95 L516.25,317.57 L516.30,317.22 L516.35,316.91 L516.40,316.74 L516.45,316.97 L516.50,317.24 L516.55,317.56 L516.60,317.89 L516.65,318.23 L516.70,318.53 L516.75,318.78 L516.80,318.97 L516.85,319.06 L516.90,319.07 L516.95,318.97 L517.00,318.78 L517.05,318.51 L517.10,318.18 L517.15,317.80 L517.20,317.41 L517.25,317.02 L517.30,316.67 L517.35,316.37 L517.40,316.29 L517.45,316.53 L517.50,316.82 L517.55,317.15 L517.60,317.49 L517.65,317.82 L517.70,318.11 L517.75,318.34 L517.80,318.48 L517.85,318.53 L517.90,318.48 L517.95,318.32 L518.00,318.07 L518.05,317.74 L518.10,317.37 L518.15,316.97 L518.20,316.57 L518.25,316.20 L518.30,315.88 L518.35,315.77 L518.40,316.01 L518.45,316.30 L518.50,316.64 L518.55,316.98 L518.60,317.31 L518.65,317.59 L518.70,317.80 L518.75,317.93 L518.80,317.94 L518.85,317.85 L518.90,317.65 L518.95,317.37 L519.00,317.01 L519.05,316.62 L519.10,316.21 L519.15,315.82 L519.20,315.47 L519.25,315.19 L519.30,315.39 L519.35,315.67 L519.40,316.00 L519.45,316.35 L519.50,316.69 L519.55,316.99 L519.60,317.22 L519.65,317.35 L519.70,317.37 L519.75,317.28 L519.80,317.08 L519.85,316.79 L519.90,316.42 L519.95,316.02 L520.00,315.61 L520.05,315.22 L520.10,314.88 L520.15,314.71 L520.20,314.96 L520.25,315.27 L520.30,315.61 L520.35,315.97 L520.40,316.29 L520.45,316.57 L520.50,316.75 L520.55,316.83 L520.60,316.78 L520.65,316.62 L520.70,316.35 L520.75,316.00 L520.80,315.60 L520.85,315.18 L520.90,314.78 L520.95,314.43 L521.00,314.20 L521.05,314.44 L521.10,314.75 L521.15,315.10 L521.20,315.45 L521.25,315.79 L521.30,316.06 L521.35,316.23 L521.40,316.29 L521.45,316.23 L521.50,316.04 L521.55,315.75 L521.60,315.38 L521.65,314.96 L521.70,314.54 L521.75,314.15 L521.80,313.82 L521.85,313.82 L521.90,314.10 L521.95,314.44 L522.00,314.80 L522.05,315.15 L522.10,315.45 L522.15,315.67 L522.20,315.77 L522.25,315.74 L522.30,315.59 L522.35,315.31 L522.40,314.95 L522.45,314.54 L522.50,314.11 L522.55,313.71 L522.60,313.38 L522.65,313.35 L522.70,313.63 L522.75,313.98 L522.80,314.34 L522.85,314.70 L522.90,314.99 L522.95,315.20 L523.00,315.28 L523.05,315.22 L523.10,315.03 L523.15,314.73 L523.20,314.34 L523.25,313.91 L523.40,313.58" fill="none" stroke="#808080" stroke-width="3.7" stroke-linejoin="round"/>
<path d="M486.45,328.59 L487.10,326.74 L487.60,328.29 Z M487.04,335.29 L487.69,336.55 L488.19,334.99 Z M487.52,328.09 L488.17,325.88 L488.67,327.79 Z M487.75,334.79 L488.40,336.42 L488.90,334.49 Z M488.97,327.41 L489.62,326.05 L490.12,327.11 Z M489.21,334.11 L489.86,335.85 L490.36,333.81 Z M490.05,326.94 L490.70,324.92 L491.20,326.64 Z M490.33,333.61 L490.98,336.01 L491.48,333.31 Z M491.25,326.45 L491.90,324.08 L492.40,326.15 Z M491.80,333.04 L492.45,335.66 L492.95,332.74 Z M492.61,325.90 L493.26,322.94 L493.76,325.60 Z M493.33,332.41 L493.98,333.49 L494.48,332.11 Z M493.87,325.38 L494.52,323.84 L495.02,325.08 Z M494.26,331.82 L494.91,333.02 L495.41,331.52 Z M495.61,324.68 L496.26,323.07 L496.76,324.38 Z M496.19,331.02 L496.84,333.00 L497.34,330.72 Z M496.94,324.14 L497.59,321.91 L498.09,323.84 Z M497.18,330.40 L497.83,331.50 L498.33,330.10 Z M498.13,323.66 L498.78,321.20 L499.28,323.36 Z M498.52,329.85 L499.17,331.58 L499.67,329.55 Z M499.65,323.04 L500.30,320.70 L500.80,322.74 Z M500.33,329.14 L500.98,330.83 L501.48,328.84 Z M501.28,322.39 L501.93,320.52 L502.43,322.09 Z M501.80,328.39 L502.45,330.71 L502.95,328.09 Z M503.07,321.64 L503.72,318.66 L504.22,321.34 Z M503.86,327.54 L504.51,329.20 L505.01,327.24 Z M504.18,321.15 L504.83,318.89 L505.33,320.85 Z M504.47,326.99 L505.12,329.73 L505.62,326.69 Z M505.62,320.52 L506.27,319.13 L506.77,320.22 Z M506.28,326.27 L506.93,328.80 L507.43,325.97 Z M507.13,319.85 L507.78,316.54 L508.28,319.55 Z M507.75,325.51 L508.40,327.23 L508.90,325.21 Z M508.67,319.17 L509.32,316.54 L509.82,318.87 Z M509.37,324.74 L510.02,326.79 L510.52,324.44 Z M510.52,318.29 L511.17,315.90 L511.67,317.99 Z M510.75,323.75 L511.40,326.28 L511.90,323.45 Z M512.15,317.47 L512.80,314.68 L513.30,317.17 Z M512.84,322.83 L513.49,326.12 L513.99,322.53 Z M513.41,316.83 L514.06,314.65 L514.56,316.53 Z M513.62,322.13 L514.27,324.66 L514.77,321.83 Z M514.82,316.12 L515.47,314.43 L515.97,315.82 Z M515.06,321.33 L515.71,322.60 L516.21,321.03 Z M516.51,315.27 L517.16,313.67 L517.66,314.97 Z M516.95,320.38 L517.60,321.95 L518.10,320.08 Z M518.30,314.31 L518.95,312.83 L519.45,314.01 Z M518.83,319.31 L519.48,321.35 L519.98,319.01 Z M520.09,313.28 L520.74,310.09 L521.24,312.98 Z M520.46,318.18 L521.11,321.16 L521.61,317.88 Z M521.47,312.49 L522.12,310.36 L522.62,312.19 Z M522.24,317.31 L522.89,320.34 L523.39,317.01 Z" fill="#808080" stroke="none"/>
<rect x="521.9" y="311.5" width="3.2" height="5.3" fill="#808080"/>
<g stroke="#000000" stroke-opacity="0.5" stroke-width="1" fill="none">
<line x1="0" y1="406.4" x2="756.9" y2="406.4"/>
<line x1="523.62" y1="25.5" x2="523.62" y2="494"/>
</g>
<g stroke="#000000" stroke-opacity="0.6" stroke-width="1" fill="none">
<line x1="0.35" y1="406.4" x2="0.35" y2="403.00"/>
<line x1="29.43" y1="406.4" x2="29.43" y2="403.00"/>
<line x1="58.50" y1="406.4" x2="58.50" y2="400.50"/>
<line x1="87.58" y1="406.4" x2="87.58" y2="403.00"/>
<line x1="116.65" y1="406.4" x2="116.65" y2="403.00"/>
<line x1="145.73" y1="406.4" x2="145.73" y2="403.00"/>
<line x1="174.80" y1="406.4" x2="174.80" y2="400.50"/>
<line x1="203.88" y1="406.4" x2="203.88" y2="403.00"/>
<line x1="232.95" y1="406.4" x2="232.95" y2="403.00"/>
<line x1="262.03" y1="406.4" x2="262.03" y2="403.00"/>
<line x1="291.10" y1="406.4" x2="291.10" y2="400.50"/>
<line x1="320.18" y1="406.4" x2="320.18" y2="403.00"/>
<line x1="349.25" y1="406.4" x2="349.25" y2="403.00"/>
<line x1="378.33" y1="406.4" x2="378.33" y2="403.00"/>
<line x1="407.40" y1="406.4" x2="407.40" y2="400.50"/>
<line x1="436.48" y1="406.4" x2="436.48" y2="403.00"/>
<line x1="465.55" y1="406.4" x2="465.55" y2="403.00"/>
<line x1="494.63" y1="406.4" x2="494.63" y2="403.00"/>
<line x1="523.70" y1="406.4" x2="523.70" y2="400.50"/>
<line x1="552.78" y1="406.4" x2="552.78" y2="403.00"/>
<line x1="581.85" y1="406.4" x2="581.85" y2="403.00"/>
<line x1="610.93" y1="406.4" x2="610.93" y2="403.00"/>
<line x1="640.00" y1="406.4" x2="640.00" y2="400.50"/>
<line x1="669.08" y1="406.4" x2="669.08" y2="403.00"/>
<line x1="698.15" y1="406.4" x2="698.15" y2="403.00"/>
<line x1="727.23" y1="406.4" x2="727.23" y2="403.00"/>
<line x1="756.30" y1="406.4" x2="756.30" y2="400.50"/>
<line x1="523.7" y1="493.64" x2="527.20" y2="493.64"/>
<line x1="523.7" y1="464.41" x2="527.20" y2="464.41"/>
<line x1="523.7" y1="435.18" x2="527.20" y2="435.18"/>
<line x1="523.7" y1="376.72" x2="527.20" y2="376.72"/>
<line x1="523.7" y1="347.49" x2="527.20" y2="347.49"/>
<line x1="523.7" y1="318.26" x2="527.20" y2="318.26"/>
<line x1="523.7" y1="289.03" x2="527.20" y2="289.03"/>
<line x1="523.7" y1="259.80" x2="529.30" y2="259.80"/>
<line x1="523.7" y1="230.57" x2="527.20" y2="230.57"/>
<line x1="523.7" y1="201.34" x2="527.20" y2="201.34"/>
<line x1="523.7" y1="172.11" x2="527.20" y2="172.11"/>
<line x1="523.7" y1="142.88" x2="527.20" y2="142.88"/>
<line x1="523.7" y1="113.65" x2="529.30" y2="113.65"/>
<line x1="523.7" y1="84.42" x2="527.20" y2="84.42"/>
<line x1="523.7" y1="55.19" x2="527.20" y2="55.19"/>
<line x1="523.7" y1="25.96" x2="527.20" y2="25.96"/>
</g>
<g font-size="12.5px" fill="#000" stroke="#000" stroke-width="0.08">
<text x="59.22" y="421.30">8</text>
<text x="175.52" y="421.30">6</text>
<text x="291.82" y="421.30">4</text>
<text x="408.12" y="421.30">2</text>
<text x="640.00" y="421.30" text-anchor="middle">2</text>
<text x="756.30" y="421.30" text-anchor="middle">4</text>
<text x="519.2" y="117.85" text-anchor="end">15</text>
<text x="519.2" y="264.00" text-anchor="end">20</text>
<path d="M51.85,418.30 h6.3 M168.15,418.30 h6.3 M284.45,418.30 h6.3 M400.75,418.30 h6.3 M499.50,114.55 h6.3 M499.50,260.70 h6.3" stroke="#000" stroke-width="0.8" fill="none"/>
<text x="524" y="13.2" text-anchor="middle">log(h)</text>
<text x="767.5" y="409.85">log(f<tspan dx="0.7">) Hz</tspan></text>
</g>
</svg></body></html>
